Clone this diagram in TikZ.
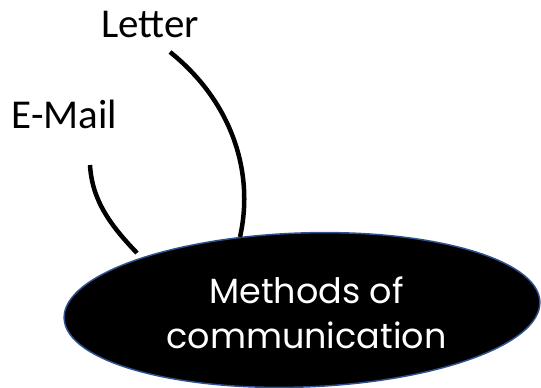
\documentclass[tikz,border=0pt]{standalone}
\usepackage{fontspec}
\setmainfont{Carlito}
\newfontfamily\gothic{Poppins}
\usetikzlibrary{shapes.geometric}
\definecolor{rim}{HTML}{2F528F}
\tikzset{
  lbl/.style={font=\fontsize{41}{48}\selectfont, inner sep=0pt, anchor=base},
  link/.style={line width=4.5pt, line cap=butt},
  bubble/.style={ellipse, draw=rim, line width=1.5pt, fill=black, minimum width=476pt, minimum height=154pt, inner sep=0pt},
  btext/.style={text=white, align=center, font=\gothic\fontsize{35}{45}\selectfont, inner sep=0pt}
}
\begin{document}
\begin{tikzpicture}[x=1pt,y=-1pt]
\useasboundingbox (0,0) rectangle (541,388);
\node[bubble, rotate=2] (m) at (302,310) {};
\node[btext] (mt) at (306.5,313) {Methods of\\communication};
\node[lbl] (letter) at (150,37) {Letter};
\node[lbl] (email) at (64.5,128) {E-Mail};
\coordinate (ls) at (170,52);
\coordinate (le) at (240,237);
\coordinate (es) at (90,165);
\coordinate (ee) at (137,253);
\draw[link] (ls) .. controls (230,100) and (255,170) .. (le);
\draw[link] (es) .. controls (92,200) and (110,225) .. (ee);
\end{tikzpicture}
\end{document}
